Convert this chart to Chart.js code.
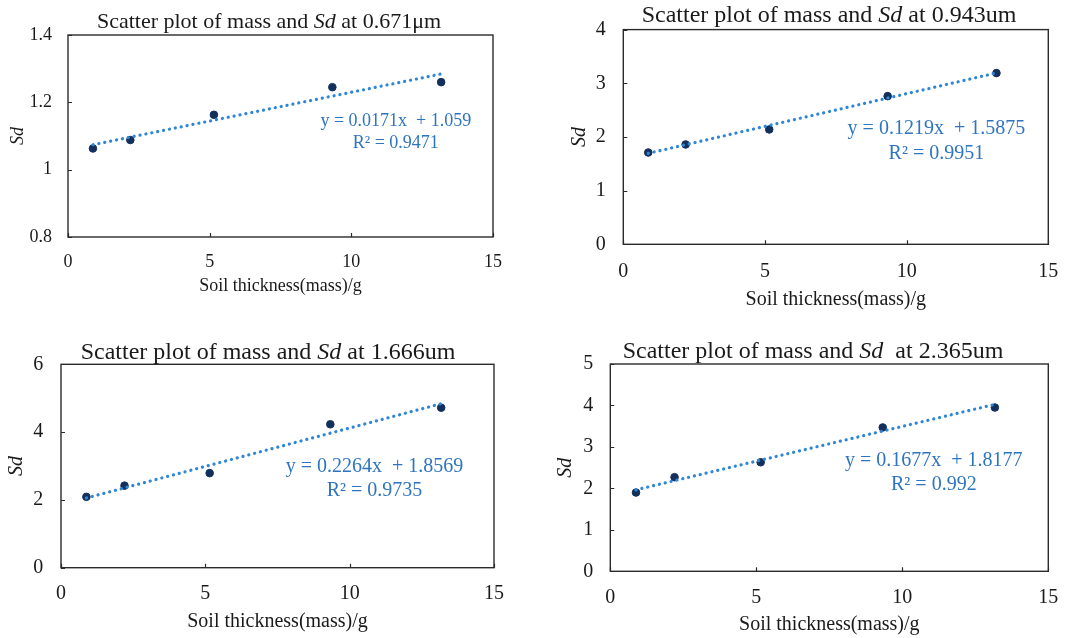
<!DOCTYPE html>
<html>
<head>
<meta charset="utf-8">
<script src="https://cdn.jsdelivr.net/npm/chart.js@4.4.1/dist/chart.umd.min.js"></script>
<style>
    body { margin: 0; background: #fff; width: 1075px; height: 638px; position: relative; overflow: hidden; }
    .box { position: absolute; }
</style>
</head>
<body>
<div class="box" style="left:0;top:0;width:540px;height:318px"><canvas id="sd-671"></canvas></div>
<div class="box" style="left:540px;top:0;width:535px;height:318px"><canvas id="sd-943"></canvas></div>
<div class="box" style="left:0;top:318px;width:540px;height:320px"><canvas id="sd-1666"></canvas></div>
<div class="box" style="left:540px;top:318px;width:535px;height:320px"><canvas id="sd-2365"></canvas></div>
<script>
// soil mass (g) and measured Sd at each wavelength
const mass = [0.88, 2.2, 5.15, 9.33, 13.17];
const sd671 = [1.063, 1.088, 1.163, 1.245, 1.260];
const sd943 = [1.71, 1.86, 2.14, 2.76, 3.19];
const sd1666 = [2.09, 2.42, 2.79, 4.23, 4.72];
const sd2365 = [1.90, 2.27, 2.63, 3.47, 3.95];

// linear trendlines
const slopes = [0.0171, 0.1219, 0.2264, 0.1677];
const intercepts = [1.059, 1.5875, 1.8569, 1.8177];
const rSquared = ['0.9471', '0.9951', '0.9735', '0.992'];

const wavelengths = ['0.671\u03bcm', '0.943um', '1.666um', '2.365um'];
const xTicks = [0, 5, 10, 15];
const yRanges = [[0.8, 1.4, 0.2], [0, 4, 1], [0, 6, 2], [0, 5, 1]];

const SERIF = '"Liberation Serif", "Times New Roman", serif';
const INK = '#1a1a1a';

// frame, inside ticks, title and equation
const decor = {
    id: 'decor',
    beforeDatasetsDraw(chart) {
        const {ctx, chartArea: a, scales} = chart;
        ctx.save();
        ctx.strokeStyle = '#2b2b2b';
        ctx.lineWidth = 1.4;
        ctx.strokeRect(a.left, a.top, a.right - a.left, a.bottom - a.top);
        ctx.lineWidth = 1.2;
        ctx.beginPath();
        scales.y.ticks.forEach(t => {
            let py = Math.round(scales.y.getPixelForValue(t.value)) + 0.5;
            ctx.moveTo(a.left, py);
            ctx.lineTo(a.left + 4, py);
        });
        scales.x.ticks.forEach(t => {
            let px = Math.round(scales.x.getPixelForValue(t.value)) + 0.5;
            ctx.moveTo(px, a.bottom);
            ctx.lineTo(px, a.bottom - 4);
        });
        ctx.stroke();
        ctx.restore();
    },
    afterDraw(chart, args, o) {
        const {ctx, scales} = chart;
        ctx.save();
        // title with italic Sd
        let parts = o.title;
        let widths = parts.map(p => {
            ctx.font = (p.italic ? 'italic ' : '') + o.titleSize + 'px ' + SERIF;
            return ctx.measureText(p.text).width;
        });
        let total = widths.reduce((s, w) => s + w, 0);
        let x = o.titleX - total / 2;
        ctx.fillStyle = INK;
        ctx.textBaseline = 'alphabetic';
        ctx.textAlign = 'left';
        parts.forEach((p, i) => {
            ctx.font = (p.italic ? 'italic ' : '') + o.titleSize + 'px ' + SERIF;
            ctx.fillText(p.text, x, o.titleY);
            x += widths[i];
        });
        // regression equation
        let ex = scales.x.getPixelForValue(o.eqX);
        let ey = scales.y.getPixelForValue(o.eqY);
        ctx.font = o.fontSize + 'px ' + SERIF;
        ctx.fillStyle = '#2e75c0';
        ctx.textAlign = 'center';
        o.eq.forEach((line, i) => ctx.fillText(line, ex, ey + i * o.eqGap));
        ctx.restore();
    }
};

const layouts = [
    {fs: 18, titleFs: 22, top: 35, right: 47, yW: 68, xH: 81, yTickPad: 16, xTickPad: 14, xTitlePad: 21, yTitlePad: 7,
        titleX: 269, titleY: 28, eqX: 11.57, eqY: 1.130, eqGap: 21.7, gap: ' at '},
    {fs: 20, titleFs: 24, top: 29, right: 26.7, yW: 83.3, xH: 73.7, yTickPad: 17.6, xTickPad: 15.4, xTitlePad: 6, yTitlePad: 28,
        titleX: 289, titleY: 21.7, eqX: 11.05, eqY: 2.062, eqGap: 25, gap: ' at '},
    {fs: 20, titleFs: 24, top: 46.3, right: 46, yW: 61, xH: 70.3, yTickPad: 17.7, xTickPad: 13.6, xTitlePad: 4.3, yTitlePad: 5,
        titleX: 268, titleY: 41, eqX: 10.86, eqY: 2.832, eqGap: 24.3, gap: ' at '},
    {fs: 20, titleFs: 24, top: 46, right: 26.7, yW: 70.3, xH: 66.7, yTickPad: 17, xTickPad: 14, xTitlePad: 1, yTitlePad: 14,
        titleX: 273, titleY: 40.3, eqX: 11.08, eqY: 2.547, eqGap: 24.3, gap: '  at '}
];

const buildChart = (id, i, sd) => {
    let L = layouts[i];
    let [yMin, yMax, yStep] = yRanges[i];
    let points = mass.map((m, k) => ({x: m, y: sd[k]}));
    let x0 = mass[0], x1 = mass[mass.length - 1];
    let trend = [x0, x1].map(x => ({x: x, y: slopes[i] * x + intercepts[i]}));
    let tickFont = {family: SERIF, size: L.fs};

    return new Chart(document.getElementById(id), {
        type: 'scatter',
        data: {
            datasets: [{
                type: 'line',
                data: trend,
                borderColor: '#2f86d6',
                borderWidth: 3.2,
                borderDash: [0.1, 5.9],
                borderCapStyle: 'round',
                pointRadius: 0,
                fill: false,
                order: 0
            }, {
                data: points,
                backgroundColor: '#13305c',
                borderColor: '#13305c',
                pointRadius: 3.8,
                order: 1
            }]
        },
        options: {
            responsive: true,
            maintainAspectRatio: false,
            animation: false,
            events: [],
            layout: {padding: {top: L.top, right: L.right, left: 0, bottom: 0}},
            plugins: {
                legend: {display: false},
                tooltip: {enabled: false},
                decor: {
                    title: [
                        {text: 'Scatter plot of mass and '},
                        {text: 'Sd', italic: true},
                        {text: L.gap + wavelengths[i]}
                    ],
                    titleSize: L.titleFs,
                    titleX: L.titleX,
                    titleY: L.titleY,
                    fontSize: L.fs,
                    eq: ['y = ' + slopes[i] + 'x  + ' + intercepts[i], 'R\u00b2 = ' + rSquared[i]],
                    eqX: L.eqX,
                    eqY: L.eqY,
                    eqGap: L.eqGap
                }
            },
            scales: {
                x: {
                    type: 'linear',
                    min: xTicks[0],
                    max: xTicks[xTicks.length - 1],
                    afterBuildTicks: s => { s.ticks = xTicks.map(v => ({value: v})); },
                    afterFit: s => { s.height = L.xH; },
                    grid: {display: false, drawTicks: false},
                    border: {display: false},
                    ticks: {font: tickFont, color: INK, padding: L.xTickPad, maxRotation: 0},
                    title: {display: true, text: 'Soil thickness(mass)/g', font: tickFont, color: INK,
                        padding: {top: 0, bottom: L.xTitlePad}}
                },
                y: {
                    min: yMin,
                    max: yMax,
                    afterFit: s => { s.width = L.yW; },
                    grid: {display: false, drawTicks: false},
                    border: {display: false},
                    ticks: {
                        stepSize: yStep,
                        font: tickFont,
                        color: INK,
                        padding: L.yTickPad,
                        callback: v => String(+v.toFixed(2))
                    },
                    title: {display: true, text: 'Sd', font: {family: SERIF, size: L.fs, style: 'italic'}, color: INK,
                        padding: {top: L.yTitlePad, bottom: 0}}
                }
            }
        },
        plugins: [decor]
    });
};

document.addEventListener('DOMContentLoaded', function () {
    buildChart('sd-671', 0, sd671);
    buildChart('sd-943', 1, sd943);
    buildChart('sd-1666', 2, sd1666);
    buildChart('sd-2365', 3, sd2365);
});
</script>
</body>
</html>
